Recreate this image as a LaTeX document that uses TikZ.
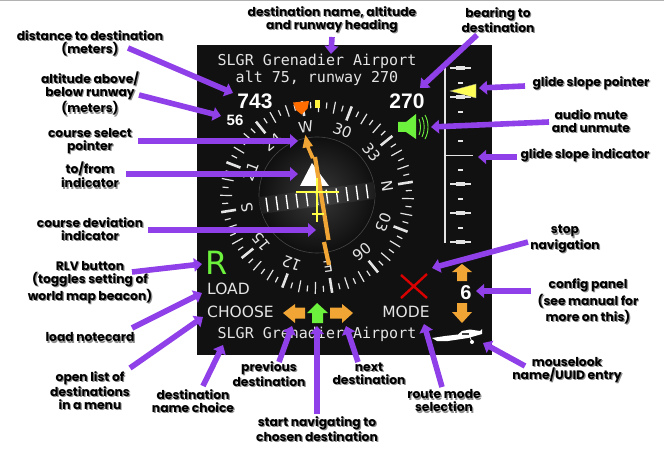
\documentclass[tikz,border=0pt]{standalone}
\usepackage{fontspec}
\setmainfont{Poppins}
\newfontfamily\monof{DejaVu Sans Mono}
\newfontfamily\dejav{DejaVu Sans}
\newfontfamily\numf{Liberation Sans}
\usetikzlibrary{arrows.meta,calc}
\definecolor{panelc}{HTML}{111111}
\definecolor{purp}{HTML}{9040E8}
\definecolor{orng}{HTML}{F0A535}
\definecolor{grn}{HTML}{6CF23C}
\definecolor{ticks}{HTML}{E4E4E4}
\definecolor{yel}{HTML}{FFFF45}
\newcommand{\shtext}[1]{\leavevmode\rlap{\kern1.2pt\raisebox{-1.2pt}{\textcolor{black!45}{#1}}}#1}
\tikzset{
  lbl/.style={font=\fontsize{12.3}{13}\selectfont\bfseries,align=center,text=black,inner sep=0pt},
  arr/.style={draw=purp,line width=5.6pt,-{Triangle[length=8pt,width=13.5pt]}},
  mono/.style={font=\monof\fontsize{15}{15}\selectfont,text=ticks,inner sep=0pt},
  btn/.style={font=\dejav\fontsize{15.5}{15.5}\selectfont,text=ticks,inner sep=0pt},
  num/.style={font=\numf\bfseries,text=white,inner sep=0pt},
  card/.style={font=\dejav\fontsize{15}{15}\selectfont,text=ticks,inner sep=0pt},
}
\begin{document}
\begin{tikzpicture}[x=1pt,y=-1pt]
\useasboundingbox (0,0) rectangle (664,457);
\fill[white] (0,0) rectangle (664,457);
\draw[black!30,line width=1pt] (0,0.5) -- (664,0.5);
\fill[panelc] (197,45) rectangle (492,355);
% compass card
\foreach \a in {0,5,...,355}{
  \pgfmathsetmacro\b{\a-9}
  \pgfmathtruncatemacro\mthirty{mod(\a,30)}
  \pgfmathtruncatemacro\mten{mod(\a,10)}
  \pgfmathsetmacro\ri{\mthirty==0?82:(\mten==0?85:89)}
  \pgfmathsetmacro\ro{\mten==0?97:95}
  \pgfmathsetmacro\lw{\mthirty==0?2.6:1.2}
  \draw[ticks,line width=\lw pt] ({317+\ri*sin(\b)},{197-\ri*cos(\b)}) -- ({317+\ro*sin(\b)},{197-\ro*cos(\b)});
}
\foreach \a/\t in {0/W,30/30,60/33,90/N,120/03,150/06,180/E,210/12,240/15,270/S,300/21,330/24}{
  \pgfmathsetmacro\b{\a-9}
  \node[card,rotate=-\b] (card\a) at ({317+71*sin(\b)},{197-71*cos(\b)}) {\t};
}
% inner dial
\shade[inner color=black!78,outer color=black!94] (317,195) circle (58);
\draw[black!72,line width=.6pt] (317,195) circle (58);
\begin{scope}
\clip (317,195) circle (58);
\begin{scope}[rotate around={7.5:(317,198)}]
\shade[left color=black!90,right color=black!90,middle color=black!72] (255,189.5) rectangle (379,206.5);
\foreach \k in {-5,...,5}{
  \draw[white,line width=1.4pt] ({317+10.1*\k},191) -- ({317+10.1*\k},205);
}
\end{scope}
\end{scope}
% to/from triangle
\fill[white] (312,163) -- (329,186) -- (300,186) -- cycle;
% needle
\fill[orng] (305.3,135) -- (313,146) -- (309.6,146.6) -- (314.8,158) -- (311,158.8) -- (306.2,147.5) -- (302.5,148.2) -- cycle;
\draw[orng,line width=4.2pt] (315,157) -- (328.5,240);
\draw[orng,line width=4.2pt] (324,242) -- (329,265);
% yellow cross
\draw[yel,line width=2pt] (296,192) -- (339,192) (317,178) -- (317,222) (312,214) -- (324,214);
% header
\node[mono] (title) at (317,61) {SLGR Grenadier Airport};
\node[mono] (altline) at (317,78) {alt 75, runway 270};
\node[num,font=\numf\bfseries\fontsize{21}{21}\selectfont] (dist) at (255,101) {743};
\node[num,font=\numf\bfseries\fontsize{15}{15}\selectfont] (alt) at (235,120) {56};
\node[num,font=\numf\bfseries\fontsize{21}{21}\selectfont] (bear) at (407,101) {270};
% bug
\fill[orange!85!red] (293,102.5) -- (309,101) -- (307.5,108.5) -- (301.5,114.5) -- (296,110) -- cycle;
\fill[yel!90!orange] (315,100) rectangle (320,108);
% speaker
\fill[grn] (398,122) -- (406,122) -- (416,114) -- (416,139) -- (406,132) -- (398,132) -- cycle;
\draw[grn,line width=.9pt] (419,119) .. controls (421,124) and (421,130) .. (419,135)
  (422,117) .. controls (425,123) and (425,131) .. (422,137)
  (425,115) .. controls (429,122) and (429,132) .. (425,139);
% glide slope scale
\draw[ticks,line width=2.6pt] (445,65) -- (445,243);
\foreach \y in {68,97,126,184,213,242}{
  \draw[ticks,line width=1.2pt] (450,\y) -- (471,\y);
  \fill[ticks] (456,\y-2.2) rectangle (465,\y+2.2);
}
\foreach \y in {83,112,141,170,199,228}{
  \draw[ticks,line width=1.2pt] (458,\y) -- (463,\y);
}
\draw[ticks,line width=1.2pt] (445,155.5) -- (473,155.5);
\fill[yel!90!white,draw=black!40,line width=.3pt] (450,91) -- (476,84) -- (476,98) -- cycle;
% buttons
\node[font=\dejav\fontsize{32}{32}\selectfont,text=grn,inner sep=0pt] (rlv) at (217,263) {R};
\node[btn,anchor=west] (load) at (207,289) {LOAD};
\node[btn,anchor=west] (choose) at (207,312) {CHOOSE};
\node[btn] (mode) at (406,312) {MODE};
\node[mono] (choice) at (317,334) {SLGR Grenadier Airport};
\draw[red!85!black,line width=2.4pt] (401,275) -- (427,298) (427,274) -- (401,298);
\node[num,font=\numf\bfseries\fontsize{20}{20}\selectfont] (cfg) at (466,293) {6};
% nav arrows
\fill[orng] (283,313) -- (295,304) -- (295,307.5) -- (305,307.5) -- (305,318.5) -- (295,318.5) -- (295,323) -- cycle;
\fill[grn] (317,303) -- (328,313) -- (323,313) -- (323,323) -- (312,323) -- (312,313) -- (307,313) -- cycle;
\fill[orng] (353,313) -- (342,304) -- (342,307.5) -- (330,307.5) -- (330,318.5) -- (342,318.5) -- (342,323) -- cycle;
\fill[orng] (462,264) -- (472,272) -- (467,272) -- (467,281) -- (457,281) -- (457,272) -- (452,272) -- cycle;
\fill[orng] (462,323) -- (472,312) -- (467,312) -- (467,303) -- (457,303) -- (457,312) -- (452,312) -- cycle;
% plane
\fill[white] (432,338) -- (445,336) -- (458,334.5) -- (462,331) -- (470,329.5) -- (480,331) -- (482,329) -- (482,334) -- (468,338) -- (448,341) -- (437,341) -- cycle;
\fill[white] (472,342) circle (2);
\draw[white,line width=.8pt] (470,337) -- (472,342);
\fill[black!75] (462,332.5) rectangle (469,335);
% labels
\node[lbl] (ldest) at (332,20.5) {\shtext{destination name, altitude}\\\shtext{and runway heading}};
\node[lbl] (lbear) at (498,20.5) {\shtext{bearing to}\\\shtext{destination}};
\node[lbl] (ldist) at (90,43.5) {\shtext{distance to destination}\\\shtext{(meters)}};
\node[lbl] (lalt) at (90,94) {\shtext{altitude above/}\\\shtext{below runway}\\\shtext{(meters)}};
\node[lbl] (lcrs) at (90,141.5) {\shtext{course select}\\\shtext{pointer}};
\node[lbl] (ltof) at (90,175.5) {\shtext{to/from}\\\shtext{indicator}};
\node[lbl] (lcdi) at (90,229.5) {\shtext{course deviation}\\\shtext{indicator}};
\node[lbl] (lrlv) at (90,283) {\shtext{RLV button}\\\shtext{(toggles setting of}\\\shtext{world map beacon)}};
\node[lbl] (lload) at (90,338) {\shtext{load notecard}};
\node[lbl] (lopen) at (90,391) {\shtext{open list of}\\\shtext{destinations}\\\shtext{in a menu}};
\node[lbl] (lname) at (193,401.5) {\shtext{destination}\\\shtext{name choice}};
\node[lbl] (lprev) at (269,374.5) {\shtext{previous}\\\shtext{destination}};
\node[lbl] (lstart) at (317,429.5) {\shtext{start navigating to}\\\shtext{chosen destination}};
\node[lbl] (lnext) at (369,374.5) {\shtext{next}\\\shtext{destination}};
\node[lbl] (lroute) at (444,401.5) {\shtext{route mode}\\\shtext{selection}};
\node[lbl] (lmouse) at (567,370.5) {\shtext{mouselook}\\\shtext{name/UUID entry}};
\node[lbl] (lconf) at (588,302) {\shtext{config panel}\\\shtext{(see manual for}\\\shtext{more on this)}};
\node[lbl] (lstop) at (565,239.5) {\shtext{stop}\\\shtext{navigation}};
\node[lbl] (lgsi) at (585,156) {\shtext{glide slope indicator}};
\node[lbl] (laud) at (591,121.5) {\shtext{audio mute}\\\shtext{and unmute}};
\node[lbl] (lgsp) at (591,84) {\shtext{glide slope pointer}};
% connector ends
\foreach \n/\x/\y in {sDest/332/37,eDest/331/54,sBear/477/35,eBear/420/88,sDist/128/48,eDist/233/93,sAlt/139/95,eAlt/221/116,sCrs/138/141,eCrs/298/141,sTof/126/174,eTof/298/174,sCdi/148/230,eCdi/316/230,sRlv/132/272,eRlv/202/264,sLoad/132/328,eLoad/202/293,sOpen/130/368,eOpen/203/317,sName/203/386,eName/223/345,sPrev/279/362,ePrev/292/326,sStart/317/414,eStart/317/326,sNext/358/362,eNext/346/326,sRoute/442/387,eRoute/424/324,sMouse/525/366,eMouse/483/343,sConf/531/291,eConf/476/291,sStop/528/242,eStop/432/268,sGsi/517/157,eGsi/478/157,sAud/549/122,eAud/431/127,sGsp/525/86,eGsp/479/88}{
  \coordinate (\n) at (\x,\y);
}
\foreach \a/\b in {sDest/eDest,sBear/eBear,sDist/eDist,sAlt/eAlt,sCrs/eCrs,sTof/eTof,sCdi/eCdi,sRlv/eRlv,sLoad/eLoad,sOpen/eOpen,sName/eName,sPrev/ePrev,sStart/eStart,sNext/eNext,sRoute/eRoute,sMouse/eMouse,sConf/eConf,sStop/eStop,sGsi/eGsi,sAud/eAud,sGsp/eGsp}{
  \draw[arr] (\a) -- (\b);
}
\end{tikzpicture}
\end{document}
